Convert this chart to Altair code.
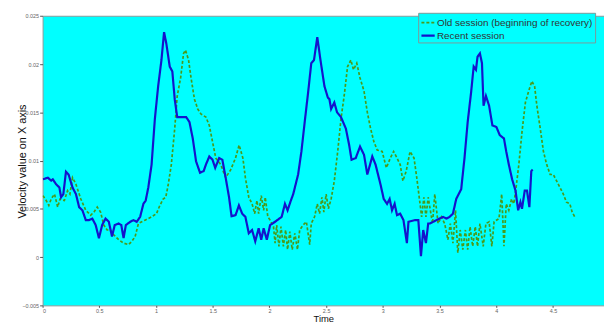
import altair as alt
import pandas as pd

# ---- data ----
recent_t = [0.003, 0.046, 0.076, 0.090, 0.119, 0.148, 0.163, 0.183, 0.206, 0.229, 0.264, 0.294, 0.322, 0.351, 0.381, 0.409, 0.438, 0.468, 0.497, 0.525,
            0.555, 0.584, 0.612, 0.636, 0.671, 0.694, 0.714, 0.734, 0.773, 0.801, 0.830, 0.860, 0.889, 0.909, 0.932, 0.961, 0.990, 1.019, 1.048, 1.071,
            1.091, 1.121, 1.144, 1.165, 1.187, 1.222, 1.266, 1.295, 1.324, 1.353, 1.388, 1.420, 1.440, 1.470, 1.498, 1.522, 1.557, 1.585, 1.614, 1.644,
            1.666, 1.701, 1.731, 1.760, 1.788, 1.818, 1.847, 1.875, 1.905, 1.928, 1.949, 1.977, 2.006, 2.050, 2.108, 2.137, 2.160, 2.189, 2.210, 2.253,
            2.282, 2.311, 2.341, 2.369, 2.393, 2.422, 2.450, 2.485, 2.515, 2.529, 2.544, 2.572, 2.596, 2.631, 2.674, 2.703, 2.724, 2.761, 2.799, 2.834,
            2.863, 2.907, 2.936, 2.950, 2.979, 3.008, 3.037, 3.060, 3.081, 3.104, 3.125, 3.153, 3.182, 3.212, 3.226, 3.284, 3.313, 3.336, 3.356, 3.380,
            3.400, 3.415, 3.473, 3.531, 3.560, 3.589, 3.618, 3.647, 3.691, 3.720, 3.748, 3.778, 3.801, 3.821, 3.835, 3.856, 3.874, 3.888, 3.909, 3.937,
            3.966, 4.001, 4.031, 4.068, 4.088, 4.111, 4.140, 4.170, 4.193, 4.213, 4.227, 4.251, 4.271, 4.292, 4.309, 4.321]
recent_v = [0.00806, 0.00823, 0.00792, 0.00806, 0.00755, 0.00721, 0.00620, 0.00653, 0.00884, 0.00856, 0.00721, 0.00653, 0.00518, 0.00485, 0.00383, 0.00383, 0.00399, 0.00332, 0.00196, 0.00332,
            0.00399, 0.00366, 0.00213, 0.00332, 0.00348, 0.00332, 0.00196, 0.00332, 0.00366, 0.00383, 0.00366, 0.00417, 0.00552, 0.00586, 0.00721, 0.00958, 0.01433, 0.01771, 0.02042, 0.02330,
            0.02212, 0.01974, 0.01923, 0.01636, 0.01450, 0.01450, 0.01450, 0.01399, 0.01229, 0.00993, 0.00874, 0.00891, 0.00958, 0.01043, 0.01009, 0.00925, 0.01026, 0.01009, 0.00823, 0.00620,
            0.00424, 0.00434, 0.00535, 0.00450, 0.00417, 0.00247, 0.00281, 0.00163, 0.00298, 0.00180, 0.00298, 0.00180, 0.00332, 0.00366, 0.00417, 0.00552, 0.00485, 0.00586, 0.00653, 0.00856,
            0.01094, 0.01399, 0.01704, 0.02009, 0.02042, 0.02279, 0.02042, 0.01771, 0.01653, 0.01636, 0.01534, 0.01602, 0.01501, 0.01450, 0.01331, 0.01161, 0.01009, 0.01026, 0.01145, 0.01060,
            0.00856, 0.01043, 0.00958, 0.00891, 0.00755, 0.00602, 0.00552, 0.00602, 0.00485, 0.00552, 0.00434, 0.00450, 0.00383, 0.00145, 0.00366, 0.00383, 0.00383, 0.00010, 0.00281, 0.00145,
            0.00348, 0.00348, 0.00383, 0.00417, 0.00399, 0.00417, 0.00450, 0.00602, 0.00704, 0.01026, 0.01399, 0.01704, 0.01974, 0.01941, 0.02076, 0.02110, 0.02009, 0.01568, 0.01669, 0.01568,
            0.01364, 0.01348, 0.01263, 0.01229, 0.01094, 0.00958, 0.00806, 0.00688, 0.00485, 0.00569, 0.00501, 0.00688, 0.00688, 0.00518, 0.00891, 0.00907]

old_t = [0.003, 0.032, 0.055, 0.076, 0.105, 0.133, 0.154, 0.192, 0.220, 0.241, 0.264, 0.294, 0.337, 0.381, 0.424, 0.453, 0.482, 0.511, 0.540, 0.569,
         0.598, 0.627, 0.671, 0.714, 0.758, 0.787, 0.816, 0.845, 0.903, 0.961, 1.004, 1.034, 1.063, 1.086, 1.106, 1.135, 1.165, 1.187, 1.217, 1.243,
         1.260, 1.287, 1.309, 1.339, 1.368, 1.396, 1.440, 1.470, 1.498, 1.527, 1.571, 1.614, 1.658, 1.701, 1.733, 1.766, 1.788, 1.818, 1.847, 1.870,
         1.890, 1.905, 1.928, 1.949, 1.963, 1.986, 2.006, 2.036, 2.050, 2.064, 2.084, 2.102, 2.123, 2.143, 2.160, 2.180, 2.201, 2.224, 2.247, 2.267,
         2.297, 2.326, 2.355, 2.369, 2.398, 2.422, 2.442, 2.463, 2.480, 2.500, 2.520, 2.544, 2.572, 2.602, 2.631, 2.659, 2.689, 2.718, 2.741, 2.770,
         2.799, 2.834, 2.863, 2.892, 2.921, 2.950, 2.994, 3.031, 3.066, 3.095, 3.125, 3.153, 3.177, 3.206, 3.240, 3.275, 3.299, 3.328, 3.342, 3.362,
         3.380, 3.400, 3.438, 3.458, 3.487, 3.516, 3.545, 3.574, 3.595, 3.618, 3.641, 3.661, 3.682, 3.705, 3.728, 3.748, 3.769, 3.792, 3.815, 3.835,
         3.856, 3.885, 3.909, 3.937, 3.961, 3.981, 4.024, 4.048, 4.068, 4.088, 4.111, 4.135, 4.155, 4.175, 4.199, 4.227, 4.257, 4.286, 4.314, 4.338,
         4.358, 4.388, 4.416, 4.445, 4.475, 4.503, 4.532, 4.562, 4.591, 4.619, 4.649, 4.669, 4.692]
old_v = [0.00637, 0.00586, 0.00535, 0.00602, 0.00653, 0.00518, 0.00602, 0.00586, 0.00688, 0.00653, 0.00823, 0.00755, 0.00602, 0.00485, 0.00434, 0.00467, 0.00518, 0.00467, 0.00332, 0.00281,
         0.00281, 0.00231, 0.00180, 0.00145, 0.00129, 0.00163, 0.00213, 0.00348, 0.00383, 0.00417, 0.00450, 0.00535, 0.00602, 0.00620, 0.00739, 0.00958, 0.01331, 0.01669, 0.01856, 0.02110,
         0.02144, 0.02042, 0.01856, 0.01636, 0.01534, 0.01483, 0.01450, 0.01364, 0.01196, 0.01026, 0.00958, 0.00823, 0.00904, 0.01026, 0.01161, 0.01026, 0.00823, 0.00620, 0.00552, 0.00450,
         0.00586, 0.00450, 0.00637, 0.00485, 0.00620, 0.00417, 0.00383, 0.00315, 0.00145, 0.00332, 0.00112, 0.00315, 0.00112, 0.00281, 0.00078, 0.00264, 0.00078, 0.00247, 0.00078, 0.00281,
         0.00332, 0.00366, 0.00129, 0.00348, 0.00417, 0.00552, 0.00450, 0.00620, 0.00467, 0.00653, 0.00501, 0.00602, 0.00789, 0.01094, 0.01433, 0.01669, 0.01974, 0.02042, 0.01941, 0.02009,
         0.01856, 0.01720, 0.01501, 0.01331, 0.01196, 0.01110, 0.01094, 0.00925, 0.01026, 0.01094, 0.01026, 0.00958, 0.00789, 0.00891, 0.01094, 0.01026, 0.00823, 0.00552, 0.00417, 0.00620,
         0.00417, 0.00620, 0.00348, 0.00653, 0.00348, 0.00417, 0.00348, 0.00180, 0.00348, 0.00145, 0.00485, 0.00044, 0.00281, 0.00078, 0.00281, 0.00078, 0.00315, 0.00112, 0.00315, 0.00112,
         0.00348, 0.00112, 0.00348, 0.00366, 0.00112, 0.00366, 0.00399, 0.00653, 0.00112, 0.00552, 0.00485, 0.00602, 0.00552, 0.00721, 0.00958, 0.01297, 0.01602, 0.01720, 0.01822, 0.01771,
         0.01568, 0.01331, 0.01094, 0.00958, 0.00856, 0.00856, 0.00789, 0.00721, 0.00653, 0.00569, 0.00552, 0.00467, 0.00417]

series_names = ["Old session (beginning of recovery)", "Recent session"]
x_ticks = [0, 0.5, 1, 1.5, 2, 2.5, 3, 3.5, 4, 4.5]
y_ticks = [-0.005, 0, 0.005, 0.01, 0.015, 0.02, 0.025]

df = pd.concat([
    pd.DataFrame({"t": old_t, "v": old_v, "series": series_names[0]}),
    pd.DataFrame({"t": recent_t, "v": recent_v, "series": series_names[1]}),
], ignore_index=True)

legend = alt.Legend(
    title=None, orient="none", legendX=380, legendY=-3,
    fillColor="#00FFFF", strokeColor="#7a9a9a", padding=2,
    labelFont="Liberation Sans", labelFontSize=10, labelColor="#333333",
    symbolType="stroke", symbolSize=180, symbolStrokeWidth=2,
    rowPadding=0, labelOffset=1, labelLimit=300,
)

chart = alt.Chart(df).mark_line(clip=True).encode(
    x=alt.X("t:Q", scale=alt.Scale(domain=[0, 4.95], nice=False, zero=False),
            axis=alt.Axis(values=x_ticks, title="Time", format="~g",
                          labelFontSize=5.5, labelColor="#666666", tickColor="#555555",
                          tickSize=2, labelPadding=1, domain=False, grid=False,
                          titleFont="Liberation Sans", titleFontSize=9.5,
                          titleFontWeight="normal", titleColor="#111111", titlePadding=0)),
    y=alt.Y("v:Q", scale=alt.Scale(domain=[-0.005, 0.025], nice=False, zero=False),
            axis=alt.Axis(values=y_ticks, title="Velocity value on X axis", format="~g",
                          labelFontSize=5.5, labelColor="#666666", tickColor="#555555",
                          tickSize=3, labelPadding=1, domain=False, grid=False,
                          titleFont="Liberation Sans", titleFontSize=11,
                          titleFontWeight="normal", titleColor="#111111",
                          titleX=-20, titleY=147, titleAngle=-90,
                          titleAlign="center", titleBaseline="middle")),
    color=alt.Color("series:N", scale=alt.Scale(domain=series_names, range=["#4a9a1a", "#1414cc"]),
                    legend=legend),
    strokeDash=alt.StrokeDash("series:N", scale=alt.Scale(domain=series_names, range=[[3, 2], [1, 0]]),
                              legend=legend),
    strokeWidth=alt.StrokeWidth("series:N", scale=alt.Scale(domain=series_names, range=[1.7, 2.2]),
                                legend=None),
    order="t:Q",
).properties(
    width=568, height=293,
    autosize=alt.AutoSizeParams(type="none"),
    padding={"left": 35, "top": 6, "right": 0, "bottom": 18},
).configure(
    background="white",
    view=alt.ViewConfig(fill="#00FFFF", stroke="#8a9a9a", strokeWidth=1),
)

chart.save("out.html", embed_options={"renderer": "svg", "actions": False})
